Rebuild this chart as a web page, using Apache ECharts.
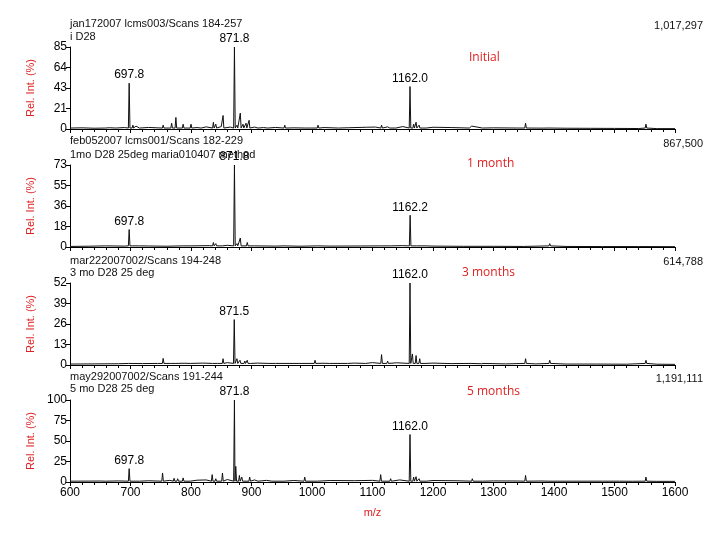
<!DOCTYPE html>
<html>
<head>
<meta charset="utf-8">
<script src="https://cdn.jsdelivr.net/npm/echarts@6/dist/echarts.min.js"></script>
<style>
  html, body { margin: 0; padding: 0; background: #fff; }
  #chart { width: 719px; height: 544px; }
</style>
</head>
<body>
<div id="chart"></div>
<script>
  // peaks: [m/z, rel. intensity]; base: baseline readings between peaks
  var peaks1 = [[660,2],[677,3],[697.8,47.5],[704,4],[709,3],[716,2.5],[754,4],[760,2.5],[768,6],[775,12],[787,5],[800,5],[818,3],[837,7],[841,5],[853,14],[871.8,85],[876,4],[881.5,16.5],[886,5],[891,6],[896,9],[912,2],[928,2],[955,4],[990,3],[1000,3],[1010,4],[1045,2],[1115,4],[1130,3],[1140,2],[1162,44],[1168,5],[1172,7],[1177,4],[1190,2],[1264,3],[1283,3],[1353,6],[1393,3],[1552,5]];
  var base1 = [[600,1],[620,1.2],[640,0.8],[665,1.3],[690,1.5],[730,1.6],[745,1.2],[790,2],[810,1.5],[825,2.2],[850,2.5],[865,2],[905,2],[920,1.5],[940,1.6],[970,1.2],[1020,1.5],[1060,1.3],[1090,1.8],[1105,2],[1125,2.2],[1150,2.5],[1200,1.8],[1230,1.5],[1260,1],[1300,1.2],[1340,1],[1380,0.9],[1420,0.8],[1460,0.7],[1500,0.6],[1540,0.5],[1570,0.4],[1600,0.4]];

  var peaks2 = [[660,0.8],[697.8,15.5],[704,2],[716,1.5],[787,2],[837,4],[841,3],[853,2],[871.8,73],[876,3],[881.5,8],[893,4],[955,1.2],[1010,1.3],[1115,2],[1162.2,28.3],[1174,2],[1190,1],[1393,3]];
  var base2 = [[600,0.5],[630,0.7],[660,0.5],[690,0.8],[730,0.9],[760,0.7],[800,1],[830,1.2],[860,1.5],[905,1],[940,0.8],[980,0.7],[1030,0.8],[1080,0.9],[1130,1],[1150,1.2],[1200,0.8],[1250,0.6],[1300,0.6],[1350,0.5],[1420,0.5],[1480,0.4],[1540,0.4],[1600,0.3]];

  var peaks3 = [[697.8,1],[754,4.2],[768,1.5],[775,2],[800,1.5],[837,2],[845,2],[853,4],[871.5,28.8],[876,4],[881,3],[889,2.5],[893,3],[900,1.5],[930,1.5],[955,2],[1005,3],[1030,1.5],[1060,1.5],[1090,2],[1115,6.6],[1125,2.5],[1162,52],[1166,7],[1172,6],[1178,4],[1188,2],[1264,2],[1283,2],[1353,4],[1393,3],[1552,3]];
  var base3 = [[600,0.6],[640,0.7],[680,0.8],[720,0.9],[745,1],[790,1.1],[820,1.2],[860,1.5],[910,1.2],[940,1],[980,1],[1020,1.1],[1070,1.2],[1100,1.5],[1140,1.4],[1200,1.2],[1230,0.9],[1280,0.8],[1320,0.7],[1370,0.7],[1420,0.6],[1470,0.6],[1520,0.5],[1570,0.5],[1600,0.4]];

  var peaks4 = [[660,2],[697.8,16.3],[716,1.5],[753,11],[772,4.5],[778,4],[787,5],[800,3],[835,9],[841,4],[852,11],[871.8,100],[874,19],[880,8],[884,6],[897,6],[912,3],[935,2],[955,2.5],[988,6],[1010,3],[1113.5,9],[1130,4],[1162,57.9],[1168,6],[1172,6.5],[1177,4],[1190,2],[1265,4],[1283,3],[1353,8],[1393,3],[1510,3],[1552,6]];
  var base4 = [[600,1],[630,1.1],[650,1.2],[680,1.3],[730,1.5],[765,2],[810,2.2],[825,2.5],[860,3],[905,2.5],[925,2],[970,1.8],[1030,1.8],[1070,1.6],[1100,2],[1145,2.5],[1200,1.8],[1240,1.5],[1300,1.3],[1340,1.2],[1380,1.2],[1430,1],[1480,1],[1530,0.9],[1570,0.8],[1600,0.8]];

  var yMax = [85, 73, 52, 100];
  var yTicks = [
    ['0','21','43','64','85'],
    ['0','18','36','55','73'],
    ['0','13','26','39','52'],
    ['0','25','50','75','100']
  ];
  var peakLabels = [
    [697.8, 871.8, 1162.0],
    [697.8, 871.8, 1162.2],
    [871.5, 1162.0],
    [697.8, 871.8, 1162.0]
  ];
  var headers = [
    ['jan172007 lcms003/Scans 184-257', 'i D28'],
    ['feb052007 lcms001/Scans 182-229', '1mo D28 25deg maria010407 method'],
    ['mar222007002/Scans 194-248', '3 mo D28 25 deg'],
    ['may292007002/Scans 191-244', '5 mo D28 25 deg']
  ];
  var totals = ['1,017,297', '867,500', '614,788', '1,191,111'];
  var stages = ['Initial', '1 month', '3 months', '5 months'];

  var allPeaks = [peaks1, peaks2, peaks3, peaks4];
  var allBase = [base1, base2, base3, base4];

  var tops = [47, 165, 283, 400];
  var gridH = 82;
  var headerY = [[25, 38], [142, 156], [262, 274], [378, 390]];
  var totalY = [27, 145, 263, 380];
  var stageY = [60, 166, 275, 394];
  var stageX = [469, 467, 462, 467];

  function spectrum(peaks, base) {
    var pts = base.slice();
    peaks.forEach(function (p) {
      pts.push([p[0] - 1.3, 1], [p[0], p[1]], [p[0] + 1.3, 1]);
    });
    pts.sort(function (a, b) { return a[0] - b[0]; });
    return pts;
  }

  function peakHeight(peaks, mz) {
    for (var i = 0; i < peaks.length; i++) {
      if (Math.abs(peaks[i][0] - mz) < 0.5) return peaks[i][1];
    }
    return 0;
  }

  var font = 'Liberation Sans, Arial, sans-serif';
  var grids = [], xAxes = [], yAxes = [], series = [], graphic = [];

  for (var i = 0; i < 4; i++) {
    var last = i === 3;
    grids.push({ left: 70, width: 605, top: tops[i], height: gridH });
    xAxes.push({
      type: 'value', gridIndex: i, min: 600, max: 1600, interval: 100,
      axisLine: { lineStyle: { color: '#000', width: 1 } },
      axisTick: { show: true, length: 4, lineStyle: { color: '#000' } },
      minorTick: { show: true, splitNumber: 5, length: 3, lineStyle: { color: '#000' } },
      axisLabel: { show: last, color: '#000', fontSize: 12, fontFamily: font, margin: 5,
        formatter: function (v) { return String(v); } },
      splitLine: { show: false },
      name: last ? 'm/z' : '', nameLocation: 'middle', nameGap: 25,
      nameTextStyle: { color: '#e02020', fontSize: 11, fontFamily: font }
    });
    (function (k) {
      yAxes.push({
        type: 'value', gridIndex: k, min: 0, max: yMax[k], interval: yMax[k] / 4,
        axisLine: { show: true, lineStyle: { color: '#000', width: 1 } },
        axisTick: { show: true, length: 4, lineStyle: { color: '#000' } },
        axisLabel: {
          color: '#000', fontSize: 12, fontFamily: font, margin: 3,
          formatter: function (v) { return yTicks[k][Math.round(v / (yMax[k] / 4))]; }
        },
        splitLine: { show: false },
        name: 'Rel. Int. (%)', nameLocation: 'middle', nameGap: 34, nameRotate: 90,
        nameTextStyle: { color: '#e02020', fontSize: 11, fontFamily: font }
      });
    })(i);

    series.push({
      type: 'line', xAxisIndex: i, yAxisIndex: i,
      data: spectrum(allPeaks[i], allBase[i]),
      symbol: 'none', silent: true, animation: false,
      lineStyle: { color: '#111', width: 1 },
      markPoint: {
        symbol: 'circle', symbolSize: 0, animation: false,
        label: {
          show: true, position: 'top', distance: 2, color: '#000',
          fontSize: 12, fontFamily: font,
          formatter: function (p) { return p.name; }
        },
        data: peakLabels[i].map(function (mz) {
          return { name: mz.toFixed(1), coord: [mz, peakHeight(allPeaks[i], mz)] };
        })
      }
    });

    graphic.push(
      { type: 'text', left: 70, top: headerY[i][0] - 7,
        style: { text: headers[i][0], fill: '#111', font: '11px ' + font } },
      { type: 'text', left: 70, top: headerY[i][1] - 7,
        style: { text: headers[i][1], fill: '#111', font: '11px ' + font } },
      { type: 'text', right: 16, top: totalY[i] - 7,
        style: { text: totals[i], fill: '#111', font: '11px ' + font } },
      { type: 'text', left: stageX[i], top: stageY[i] - 8,
        style: { text: stages[i], fill: '#e02020', font: '12px Open Sans, sans-serif' } }
    );
  }

  var chart = echarts.init(document.getElementById('chart'));
  chart.setOption({
    animation: false,
    grid: grids,
    xAxis: xAxes,
    yAxis: yAxes,
    series: series,
    graphic: graphic
  });
</script>
</body>
</html>
